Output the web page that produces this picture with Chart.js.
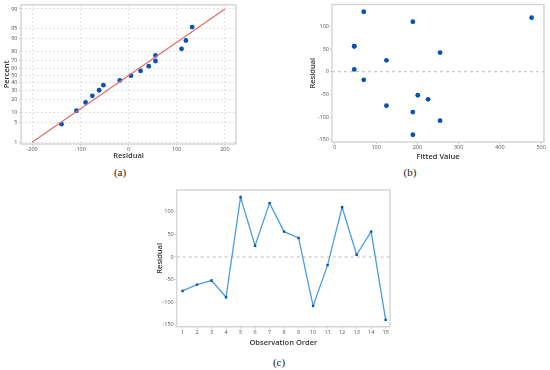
<!DOCTYPE html>
<html>
<head>
<meta charset="utf-8">
<script src="https://cdn.jsdelivr.net/npm/chart.js@4/dist/chart.umd.min.js"></script>
<style>
  html, body { margin:0; padding:0; background:#fff; }
  body { width:550px; height:370px; position:relative; overflow:hidden; }
  canvas { position:absolute; }
  .lbl { position:absolute; font-family:"Liberation Serif","DejaVu Serif",serif; font-size:11px; color:#222; transform:translate(-50%,-50%); white-space:nowrap; }
</style>
</head>
<body>
<canvas id="ca" width="240" height="165" style="left:0px;top:0px;width:240px;height:165px"></canvas>
<canvas id="cb" width="250" height="165" style="left:300px;top:0px;width:250px;height:165px"></canvas>
<canvas id="cc" width="250" height="170" style="left:150px;top:180px;width:250px;height:170px"></canvas>
<div class="lbl" style="left:120px;top:172px">(a)</div>
<div class="lbl" style="left:410px;top:172px">(b)</div>
<div class="lbl" style="left:279px;top:362px">(c)</div>
<script>
// ---- data ----
const observationOrder = [1,2,3,4,5,6,7,8,9,10,11,12,13,14,15];
const residuals = [-75, -61, -52, -89, 132, 25, 119, 56, 42, -108, -18, 110, 5, 56, -139];
const fittedValues = [125, 226, 201, 189, 70, 125, 477, 47, 255, 255, 70, 189, 47, 47, 189];
const probPercent = [4.5, 11, 17.5, 24, 30.5, 37, 43.5, 50, 56.5, 63, 69.5, 76, 82.5, 89, 95.5];
const fitLineResidual = [-200, 200];
const fitLinePercent = [1, 99];
const percentTicks = [1, 5, 10, 20, 30, 40, 50, 60, 70, 80, 90, 95, 99];
const residualTicksA = [-200, -100, 0, 100, 200];
const fittedTicks = [0, 100, 200, 300, 400, 500];
const residualTicksB = [-150, -100, -50, 0, 50, 100];
const orderTicks = observationOrder;

// ---- probit scale ----
function probit(p){
  const a=[-3.969683028665376e+01,2.209460984245205e+02,-2.759285104469687e+02,1.383577518672690e+02,-3.066479806614716e+01,2.506628277459239e+00];
  const b=[-5.447609879822406e+01,1.615858368580409e+02,-1.556989798598866e+02,6.680131188771972e+01,-1.328068155288572e+01];
  const c=[-7.784894002430293e-03,-3.223964580411365e-01,-2.400758277161838e+00,-2.549732539343734e+00,4.374664141464968e+00,2.938163982698783e+00];
  const d=[7.784695709041462e-03,3.224671290700398e-01,2.445134137142996e+00,3.754408661907416e+00];
  const pl=0.02425, ph=1-pl; let q,r;
  if(p<pl){q=Math.sqrt(-2*Math.log(p));return (((((c[0]*q+c[1])*q+c[2])*q+c[3])*q+c[4])*q+c[5])/((((d[0]*q+d[1])*q+d[2])*q+d[3])*q+1);}
  if(p<=ph){q=p-0.5;r=q*q;return (((((a[0]*r+a[1])*r+a[2])*r+a[3])*r+a[4])*r+a[5])*q/(((((b[0]*r+b[1])*r+b[2])*r+b[3])*r+b[4])*r+1);}
  q=Math.sqrt(-2*Math.log(1-p));return -(((((c[0]*q+c[1])*q+c[2])*q+c[3])*q+c[4])*q+c[5])/((((d[0]*q+d[1])*q+d[2])*q+d[3])*q+1);
}
class ProbitScale extends Chart.LinearScale {
  getPixelForValue(v){
    const lo = probit(this.min/100), hi = probit(this.max/100);
    return this.getPixelForDecimal((probit(v/100)-lo)/(hi-lo));
  }
}
ProbitScale.id = 'probit';
ProbitScale.defaults = Chart.LinearScale.defaults;
Chart.register(ProbitScale);

// ---- plugins ----
const framePlugin = { id:'frame', beforeDatasetsDraw(chart){
  const {ctx, chartArea:a} = chart; ctx.save();
  ctx.strokeStyle = '#d6d6d6'; ctx.lineWidth = 1.5;
  ctx.strokeRect(a.left, a.top, a.right-a.left, a.bottom-a.top); ctx.restore();
}};
const zeroPlugin = { id:'zero', beforeDatasetsDraw(chart){
  const {ctx, chartArea:a} = chart; const y = chart.scales.y.getPixelForValue(0);
  ctx.save(); ctx.strokeStyle = '#c8c8c8'; ctx.lineWidth = 1.2; ctx.setLineDash([3,3]);
  ctx.beginPath(); ctx.moveTo(a.left, y); ctx.lineTo(a.right, y); ctx.stroke(); ctx.restore();
}};

const FONT = '"Open Sans", "Noto Sans", sans-serif';
const tickFont = { family: FONT, size: 5.5 };
const titleFont = { family: FONT, size: 7.5, weight: '600' };
const tickColor = '#555';
const titleColor = '#333';
const ptColor = '#0a52b0';

function setTicks(arr){ return s => { s.ticks = arr.map(v => ({value:v})); }; }
function fixW(w){ return s => { s.width = w; }; }
function fixH(h){ return s => { s.height = h; }; }

const base = { responsive:false, animation:false, events:[], devicePixelRatio:1,
  plugins:{ legend:{display:false}, tooltip:{enabled:false} } };

// ---- (a) normal probability plot ----
const sortedRes = residuals.slice().sort((p,q)=>p-q);
new Chart(document.getElementById('ca'), {
  type:'scatter',
  data:{ datasets:[
    { data: fitLineResidual.map((x,i)=>({x, y:fitLinePercent[i]})), showLine:true, borderColor:'#e06b6b', borderWidth:1.2, pointRadius:0 },
    { data: sortedRes.map((x,i)=>({x, y:probPercent[i]})), backgroundColor:ptColor, borderColor:ptColor, pointRadius:2.4, borderWidth:0 }
  ]},
  options:{ ...base,
    layout:{ padding:{ top:3, right:3, left:0, bottom:0 } },
    scales:{
      x:{ type:'linear', min:-223, max:223, afterBuildTicks:setTicks(residualTicksA), afterFit:fixH(21),
          grid:{ color:'#e2e2e2', borderDash:[2,2], tickLength:2, tickColor:'#ccc', tickBorderDash:[] },
          border:{ display:false, dash:[2,2] },
          ticks:{ font:tickFont, color:tickColor, padding:0, maxRotation:0 },
          title:{ display:true, text:'Residual', font:titleFont, color:titleColor, padding:{top:0,bottom:4.5} } },
      y:{ type:'probit', min:0.85, max:99.33, afterBuildTicks:setTicks(percentTicks), afterFit:fixW(21),
          grid:{ color:'#e2e2e2', tickLength:2, tickColor:'#ccc', tickBorderDash:[] },
          border:{ display:false, dash:[2,2] },
          ticks:{ font:tickFont, color:tickColor, padding:1.5, callback:v=>String(v) },
          title:{ display:true, text:'Percent', font:titleFont, color:titleColor, padding:{top:2.5,bottom:0} } }
    }
  },
  plugins:[framePlugin]
});

// ---- (b) residual vs fitted ----
new Chart(document.getElementById('cb'), {
  type:'scatter',
  data:{ datasets:[
    { data: fittedValues.map((x,i)=>({x, y:residuals[i]})), backgroundColor:ptColor, borderColor:ptColor, pointRadius:2.4, borderWidth:0 }
  ]},
  options:{ ...base,
    layout:{ padding:{ top:4.5, right:6, left:0, bottom:0 } },
    scales:{
      x:{ type:'linear', min:-7, max:507, afterBuildTicks:setTicks(fittedTicks), afterFit:fixH(23),
          grid:{ display:true, drawOnChartArea:false, tickLength:2, tickColor:'#ccc' },
          border:{ display:false },
          ticks:{ font:tickFont, color:tickColor, padding:0.5, maxRotation:0 },
          title:{ display:true, text:'Fitted Value', font:titleFont, color:titleColor, padding:{top:0,bottom:3.5} } },
      y:{ type:'linear', min:-155, max:148, afterBuildTicks:setTicks(residualTicksB), afterFit:fixW(32),
          grid:{ display:true, drawOnChartArea:false, tickLength:2, tickColor:'#ccc' },
          border:{ display:false },
          ticks:{ font:tickFont, color:tickColor, padding:1 },
          title:{ display:true, text:'Residual', font:titleFont, color:titleColor, padding:{top:8.5,bottom:0} } }
    }
  },
  plugins:[framePlugin, zeroPlugin]
});

// ---- (c) residual vs observation order ----
new Chart(document.getElementById('cc'), {
  type:'scatter',
  data:{ datasets:[
    { data: observationOrder.map((x,i)=>({x, y:residuals[i]})), showLine:true, borderColor:'#4a9de0', borderWidth:1.3,
      backgroundColor:ptColor, pointBorderColor:ptColor, pointRadius:1.7, pointStyle:'rect', pointBorderWidth:0 }
  ]},
  options:{ ...base,
    layout:{ padding:{ top:10, right:10, left:0, bottom:0 } },
    scales:{
      x:{ type:'linear', min:0.6, max:15.3, afterBuildTicks:setTicks(orderTicks), afterFit:fixH(23.3),
          grid:{ display:true, drawOnChartArea:false, tickLength:2, tickColor:'#ccc' },
          border:{ display:false },
          ticks:{ font:tickFont, color:tickColor, padding:0.5, maxRotation:0, autoSkip:false },
          title:{ display:true, text:'Observation Order', font:titleFont, color:titleColor, padding:{top:0,bottom:2.5} } },
      y:{ type:'linear', min:-154, max:148, afterBuildTicks:setTicks(residualTicksB), afterFit:fixW(26.7),
          grid:{ display:true, drawOnChartArea:false, tickLength:2, tickColor:'#ccc' },
          border:{ display:false },
          ticks:{ font:tickFont, color:tickColor, padding:1 },
          title:{ display:true, text:'Residual', font:titleFont, color:titleColor, padding:{top:5.5,bottom:0} } }
    }
  },
  plugins:[framePlugin, zeroPlugin]
});
</script>
</body>
</html>
